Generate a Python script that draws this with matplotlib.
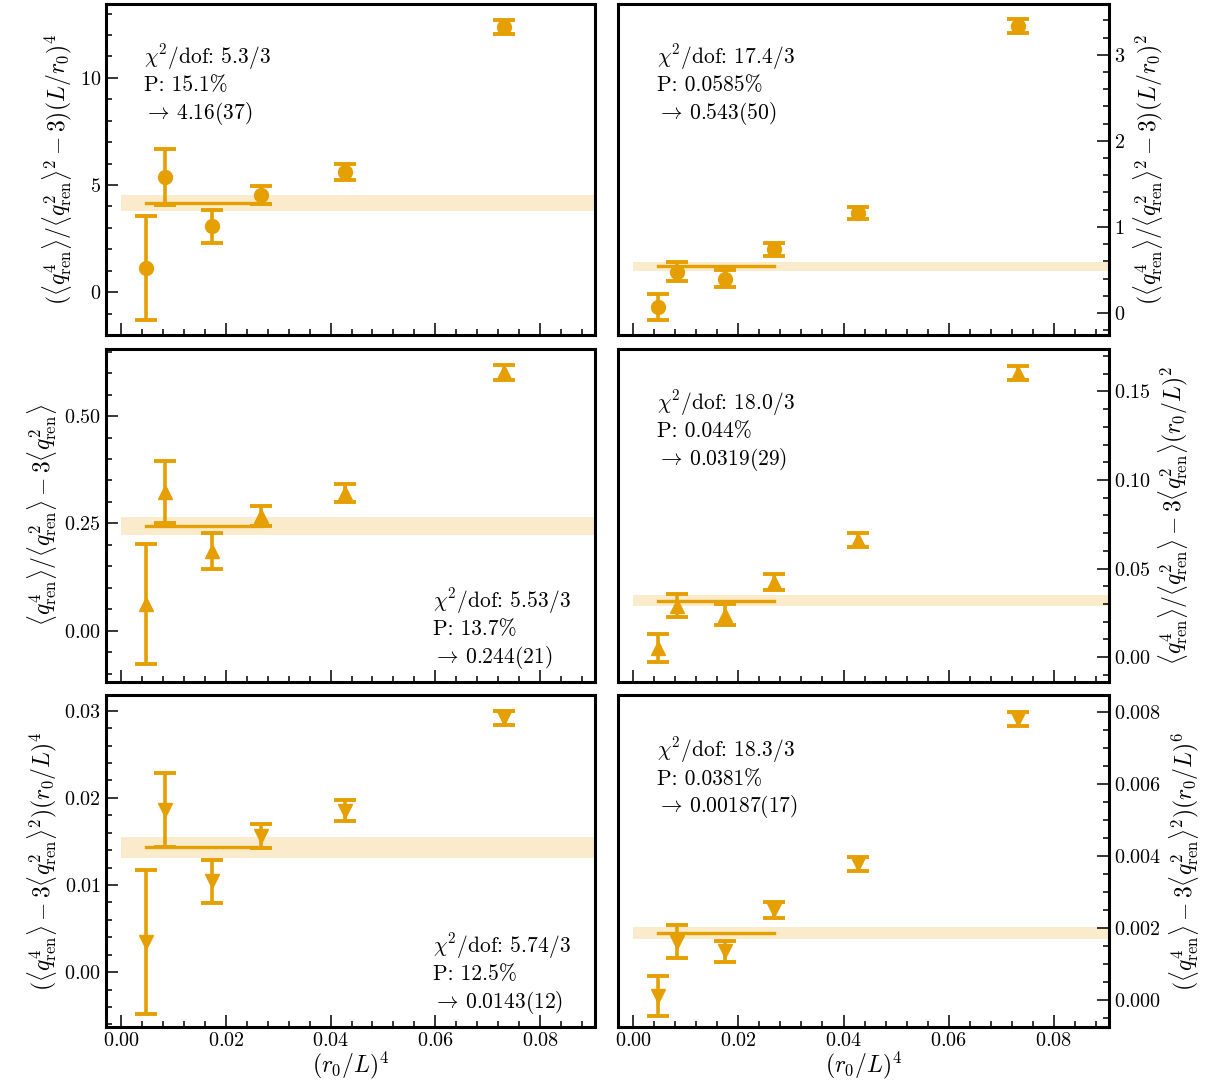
import matplotlib
matplotlib.use("Agg")
import matplotlib.pyplot as plt
from matplotlib.ticker import AutoMinorLocator, MultipleLocator

plt.rcParams['font.family'] = 'serif'
plt.rcParams['font.serif'] = ['cmr10', 'DejaVu Serif']
plt.rcParams['mathtext.fontset'] = 'cm'
plt.rcParams['axes.formatter.use_mathtext'] = True
plt.rcParams['axes.unicode_minus'] = True

COLOR = '#E69F00'

x_vals = [0.0047, 0.0084, 0.0174, 0.0267, 0.0428, 0.0731]

# top row: ratio-type observable (circles)
tl_y = [1.12, 5.37, 3.08, 4.53, 5.60, 12.38]
tl_e = [2.42, 1.30, 0.77, 0.42, 0.37, 0.32]
tr_y = [0.07, 0.48, 0.40, 0.74, 1.16, 3.33]
tr_e = [0.15, 0.11, 0.10, 0.075, 0.07, 0.08]
# middle row (up triangles)
ml_y = [0.063, 0.323, 0.185, 0.267, 0.321, 0.602]
ml_e = [0.140, 0.072, 0.042, 0.024, 0.020, 0.017]
mr_y = [0.0052, 0.0290, 0.0240, 0.0424, 0.0660, 0.1603]
mr_e = [0.0080, 0.0065, 0.0060, 0.0044, 0.0040, 0.0040]
# bottom row (down triangles)
bl_y = [0.00345, 0.0186, 0.0104, 0.0156, 0.0185, 0.0292]
bl_e = [0.0083, 0.0043, 0.0025, 0.0014, 0.0012, 0.0008]
br_y = [0.00011, 0.00162, 0.00135, 0.00250, 0.00378, 0.00780]
br_e = [0.00055, 0.00045, 0.00030, 0.00022, 0.00020, 0.00020]

fit_vals = [4.16, 0.543, 0.244, 0.0319, 0.0143, 0.00187]
fit_errs = [0.37, 0.050, 0.021, 0.0029, 0.0012, 0.00017]
fit_texts = [
    "$\\chi^2$/dof: 5.3/3\nP: 15.1%\n$\\rightarrow\\,$4.16(37)",
    "$\\chi^2$/dof: 17.4/3\nP: 0.0585%\n$\\rightarrow\\,$0.543(50)",
    "$\\chi^2$/dof: 5.53/3\nP: 13.7%\n$\\rightarrow\\,$0.244(21)",
    "$\\chi^2$/dof: 18.0/3\nP: 0.044%\n$\\rightarrow\\,$0.0319(29)",
    "$\\chi^2$/dof: 5.74/3\nP: 12.5%\n$\\rightarrow\\,$0.0143(12)",
    "$\\chi^2$/dof: 18.3/3\nP: 0.0381%\n$\\rightarrow\\,$0.00187(17)",
]
ylabels = [
    r"$(\langle q_{\mathrm{ren}}^4\rangle/\langle q_{\mathrm{ren}}^2\rangle^2-3)(L/r_0)^4$",
    r"$(\langle q_{\mathrm{ren}}^4\rangle/\langle q_{\mathrm{ren}}^2\rangle^2-3)(L/r_0)^2$",
    r"$\langle q_{\mathrm{ren}}^4\rangle/\langle q_{\mathrm{ren}}^2\rangle-3\langle q_{\mathrm{ren}}^2\rangle$",
    r"$\langle q_{\mathrm{ren}}^4\rangle/\langle q_{\mathrm{ren}}^2\rangle-3\langle q_{\mathrm{ren}}^2\rangle(r_0/L)^2$",
    r"$(\langle q_{\mathrm{ren}}^4\rangle-3\langle q_{\mathrm{ren}}^2\rangle^2)(r_0/L)^4$",
    r"$(\langle q_{\mathrm{ren}}^4\rangle-3\langle q_{\mathrm{ren}}^2\rangle^2)(r_0/L)^6$",
]
xlabel = r"$(r_0/L)^4$"

ys = [tl_y, tr_y, ml_y, mr_y, bl_y, br_y]
es = [tl_e, tr_e, ml_e, mr_e, bl_e, br_e]
markers = ['o', 'o', '^', '^', 'v', 'v']
ylims = [(-2.0, 13.45), (-0.256, 3.59), (-0.119, 0.656), (-0.0141, 0.174),
         (-0.0063, 0.0318), (-0.00075, 0.00847)]
ymajor = [5, 1, 0.25, 0.05, 0.01, 0.002]
text_pos = [(0.078, 0.885, 'top'), (0.079, 0.885, 'top'), (0.669, 0.033, 'bottom'),
            (0.079, 0.882, 'top'), (0.669, 0.033, 'bottom'), (0.079, 0.878, 'top')]

fig = plt.figure(figsize=(12.22, 10.92), dpi=100)
W, H = 1222, 1092
cols = [(106, 595), (618, 1109)]
rows = [(4, 335), (349, 682), (695, 1027)]
XLIM = (-0.0029, 0.0905)

for i in range(6):
    r, c = divmod(i, 2)
    x0, x1 = cols[c]
    t, b = rows[r]
    ax = fig.add_axes([x0 / W, 1 - b / H, (x1 - x0) / W, (b - t) / H])
    ax.fill_between([0, XLIM[1]], fit_vals[i] - fit_errs[i], fit_vals[i] + fit_errs[i],
                    color=COLOR, alpha=0.2, lw=0, zorder=1)
    ax.errorbar(x_vals, ys[i], yerr=es[i], fmt=markers[i], color=COLOR,
                markersize=10, elinewidth=2.6, capsize=8, capthick=2.8, zorder=3)
    ax.plot([x_vals[0], x_vals[3]], [fit_vals[i], fit_vals[i]], color=COLOR,
            lw=2.4, zorder=2)
    ax.set_xlim(*XLIM)
    ax.set_ylim(*ylims[i])
    ax.xaxis.set_major_locator(MultipleLocator(0.02))
    ax.xaxis.set_minor_locator(AutoMinorLocator(5))
    ax.yaxis.set_major_locator(MultipleLocator(ymajor[i]))
    ax.yaxis.set_minor_locator(AutoMinorLocator())
    ax.tick_params(which='both', direction='in', labelsize=14.5, width=1.1)
    ax.tick_params(which='major', length=8.5)
    ax.tick_params(which='minor', length=4.5)
    for s in ax.spines.values():
        s.set_linewidth(2.2)
    if c == 1:
        ax.yaxis.tick_right()
        ax.yaxis.set_label_position('right')
    ax.set_ylabel(ylabels[i], fontsize=17)
    if r == 2:
        ax.set_xlabel(xlabel, fontsize=17, labelpad=0)
    else:
        ax.tick_params(labelbottom=False)
    tx, ty, va = text_pos[i]
    ax.text(tx, ty, fit_texts[i], transform=ax.transAxes, fontsize=15.5,
            va=va, ha='left', linespacing=1.25)

fig.savefig("out.png", dpi=100)
